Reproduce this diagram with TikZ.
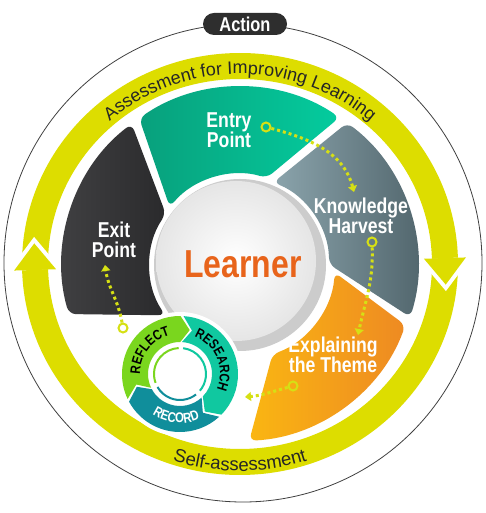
\documentclass[tikz,border=0pt]{standalone}
\usepackage{fontspec}
\setmainfont{Liberation Sans}
\newfontfamily\condfont[FakeStretch=0.82]{Liberation Sans}
\usepackage{tikz}
\usetikzlibrary{arrows.meta,calc,decorations.text,positioning}
\definecolor{ringyellow}{RGB}{221,221,0}
\definecolor{dotyellow}{RGB}{214,224,20}
\definecolor{entrydark}{RGB}{8,160,124}
\definecolor{entrylight}{RGB}{4,204,158}
\definecolor{harvlight}{RGB}{139,164,172}
\definecolor{harvdark}{RGB}{78,98,105}
\definecolor{themelight}{RGB}{250,182,18}
\definecolor{themedark}{RGB}{238,138,34}
\definecolor{exitlight}{RGB}{66,66,68}
\definecolor{exitdark}{RGB}{42,42,44}
\definecolor{learnorange}{RGB}{232,100,27}
\definecolor{reflectgreen}{RGB}{122,214,30}
\definecolor{researchteal}{RGB}{16,200,160}
\definecolor{recordteal}{RGB}{16,142,155}

\begin{document}
\begin{tikzpicture}[x=1pt,y=1pt,
    seglabel/.style={text=white,align=center,font=\condfont\bfseries\fontsize{21.5}{20.5}\selectfont},
    flow/.style={dotyellow,line width=3pt,dash pattern=on 3pt off 3pt,-{Triangle[length=6pt,width=9pt]}},
    flowdot/.style={circle,draw=dotyellow,line width=2pt,minimum size=9pt,inner sep=0pt},
    band/.style={ringyellow,line width=26pt}]
      \fill[white] (0,0) rectangle (486,513);
      \useasboundingbox (0,0) rectangle (486,513);

      \coordinate (rc) at (240,249);
      \coordinate (wc) at (240,248);

      % outer line and label
      \draw[black!75,line width=0.8pt] (243,250) circle[radius=239pt];
      \node[fill=black!82,rounded corners=11pt,minimum width=84pt,minimum height=22pt,inner sep=0pt,
            text=white,font=\condfont\bfseries\fontsize{20}{20}\selectfont] (action) at (245,489) {Action};

      % yellow ring
      \draw[band] ($(rc)+(181.7:205pt and 198pt)$) arc[start angle=181.7,end angle=1.7,x radius=205pt,y radius=198pt];
      \draw[band] ($(rc)+(1.7:205pt and 198pt)$) arc[start angle=1.7,end angle=-178.3,x radius=205pt,y radius=198pt];
      \begin{scope}[shift={(444.9,254.9)},rotate=1.8]
        \fill[white] (-21,-6.5) -- (21,-6.5) -- (0,-33) -- cycle;
        \fill[ringyellow] (-21,0) -- (21,0) -- (0,-26.5) -- cycle;
      \end{scope}
      \begin{scope}[shift={(35.1,243.1)},rotate=181.8]
        \fill[white] (-21,-6.5) -- (21,-6.5) -- (0,-33) -- cycle;
        \fill[ringyellow] (-21,0) -- (21,0) -- (0,-26.5) -- cycle;
      \end{scope}
      \path[decorate,decoration={text along path,text align=center,text color=black!85,
            text={|\fontsize{18}{18}\selectfont|Assessment for Improving Learning}}]
            ($(rc)+(150:197pt and 190pt)$) arc[start angle=150,end angle=30,x radius=197pt,y radius=190pt];
      \path[decorate,decoration={text along path,text align=center,text color=black!85,
            text={|\fontsize{18.5}{18.5}\selectfont|Self-assessment}}]
            ($(rc)+(225:214pt and 207pt)$) arc[start angle=225,end angle=315,x radius=214pt,y radius=207pt];

      % wheel parts
      \begin{scope}[shift={(wc)}]
        \path[left color=entrydark,right color=entrylight,rounded corners=7pt]
          (124.5:178pt) arc[start angle=124.5,end angle=56,radius=178pt]
          -- (73:91pt) arc[start angle=73,end angle=140.5,radius=91pt] -- cycle;
        \path[left color=harvlight,right color=harvdark,rounded corners=7pt]
          (53:178pt) arc[start angle=53,end angle=-17,radius=178pt]
          -- (0.5:89pt) arc[start angle=0.5,end angle=68,radius=89pt] -- cycle;
        \path[left color=themelight,right color=themedark,rounded corners=7pt]
          (-20:176pt) arc[start angle=-20,end angle=-87,radius=176pt]
          -- (-70:95pt) arc[start angle=-70,end angle=-4.5,radius=95pt] -- cycle;
        \path[left color=exitlight,right color=exitdark,rounded corners=7pt]
          (127.5:178pt) arc[start angle=127.5,end angle=196,radius=178pt]
          -- (214:90pt) arc[start angle=214,end angle=145.5,radius=90pt] -- cycle;
      \end{scope}

      % learner
      \fill[black!20] (wc) circle[radius=86pt];
      \shade[inner color=white,outer color=black!10] (236,252) circle[radius=80pt];
      \node[text=learnorange,font=\condfont\bfseries\fontsize{39}{39}\selectfont] (learner) at (243,249) {Learner};

      % small cycle
      \begin{scope}[shift={(180,139)}]
        \fill[white] (0,0) circle[radius=62pt];
        \foreach \s/\e/\c in {205.5/89.5/reflectgreen,86.5/-44.5/researchteal,-47.5/-151.5/recordteal}
          \fill[\c] (\s:58pt) -- ({\s-12}:45pt) -- (\s:32pt) arc[start angle=\s,end angle=\e,radius=32pt]
            -- ({\e-12}:45pt) -- (\e:58pt) arc[start angle=\e,end angle=\s,radius=58pt] -- cycle;
        \foreach \s/\e/\c in {200/93/reflectgreen,83/-40/researchteal,-52/-150/recordteal}
          \draw[\c,line width=2pt] (\s:26pt) arc[start angle=\s,end angle=\e,radius=26pt];
        \path[decorate,decoration={text along path,text align=center,text color=black,
              text={|\condfont\bfseries\fontsize{14}{14}\selectfont|REFLECT}}]
              (190:40pt) arc[start angle=190,end angle=95,radius=40pt];
        \path[decorate,decoration={text along path,text align=center,text color=black,
              text={|\condfont\bfseries\fontsize{14}{14}\selectfont|RESEARCH}}]
              (78:40pt) arc[start angle=78,end angle=-32,radius=40pt];
        \path[decorate,decoration={text along path,text align=center,text color=white,
              text={|\condfont\bfseries\fontsize{14}{14}\selectfont|RECORD}}]
              (222:49pt) arc[start angle=222,end angle=308,radius=49pt];
      \end{scope}

      % labels
      \node[seglabel] (entry) at (229,383) {Entry\\Point};
      \node[seglabel] (harvest) at (361,297) {Knowledge\\Harvest};
      \node[seglabel] (theme) at (333,158) {Explaining\\the Theme};
      \node[seglabel] (exit) at (114,273) {Exit\\Point};

      % dotted flow
      \node[flowdot] (entryout) at (266,386) {};
      \coordinate (harvestin) at (354,321);
      \draw[flow] (entryout) to[out=-15,in=105] (harvestin);
      \node[flowdot] (harvestout) at (372,271) {};
      \coordinate (themein) at (358,178);
      \draw[flow] (harvestout) to[out=-88,in=78] (themein);
      \node[flowdot] (themeout) at (293,127) {};
      \coordinate (cyclein) at (245,116);
      \draw[flow] (themeout) to[out=195,in=5] (cyclein);
      \node[flowdot] (cycleout) at (123,185) {};
      \coordinate (exitin) at (105,248);
      \draw[flow] (cycleout) to[out=100,in=-82] (exitin);

    \end{tikzpicture}
\end{document}
